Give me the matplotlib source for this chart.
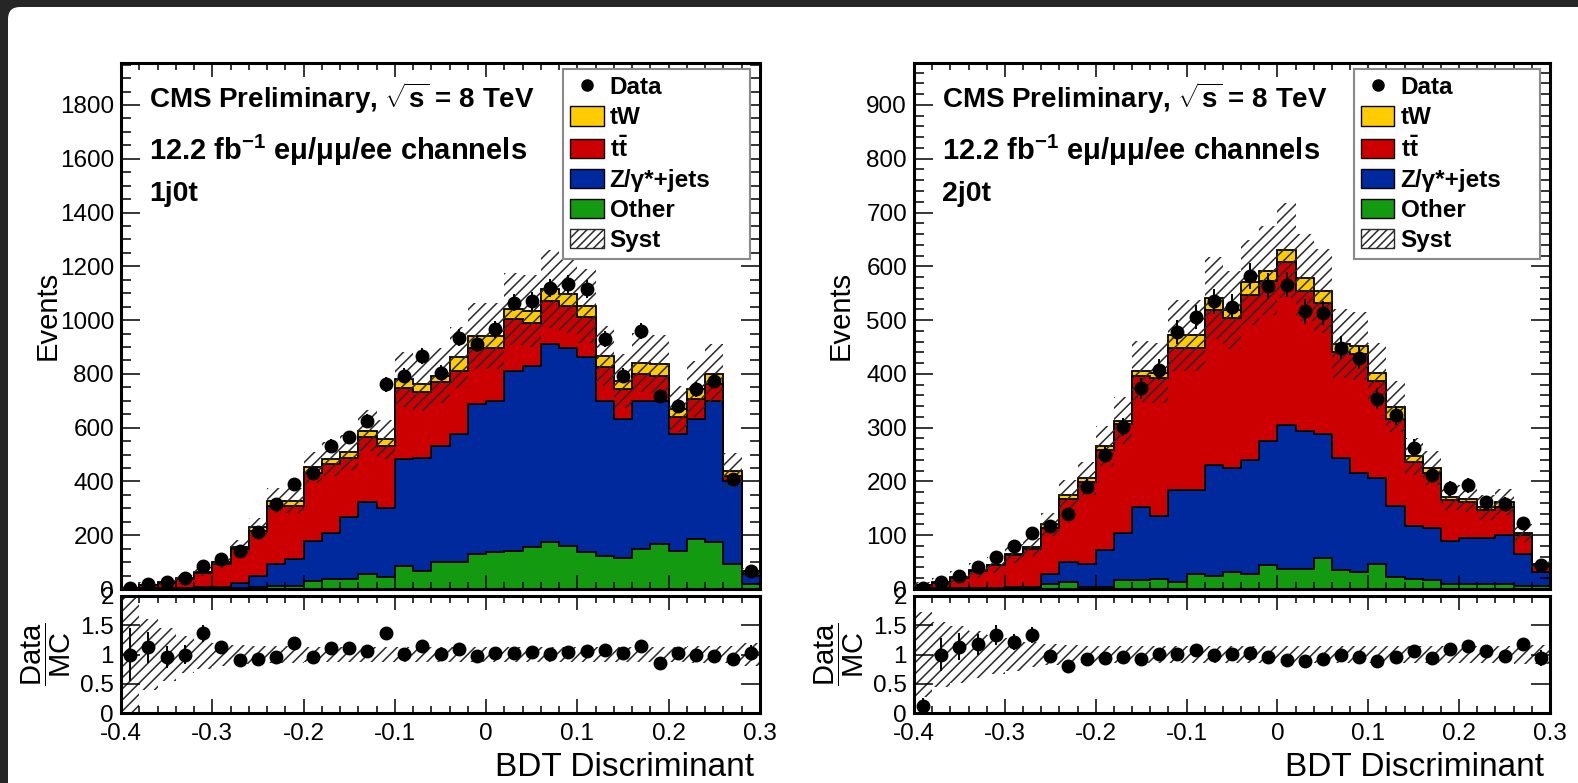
"""
tW dilepton BDT discriminant: 1j0t and 2j0t control regions
stacked MC (Other, Z/gamma*+jets, ttbar, tW) vs data, with Data/MC ratio.
"""

import numpy as np
import matplotlib
matplotlib.use("Agg")
import matplotlib.pyplot as plt
import matplotlib.patches as mpatches
from matplotlib.lines import Line2D
from matplotlib.ticker import MultipleLocator, FuncFormatter
from matplotlib.transforms import IdentityTransform

plt.rcParams['font.family'] = ['Liberation Sans', 'DejaVu Sans']
plt.rcParams['mathtext.fontset'] = 'custom'
plt.rcParams['mathtext.rm'] = 'Liberation Sans'
plt.rcParams['mathtext.bf'] = 'Liberation Sans:bold'
plt.rcParams['mathtext.it'] = 'Liberation Sans:italic'
plt.rcParams['axes.unicode_minus'] = False
plt.rcParams['hatch.linewidth'] = 1.1
plt.rcParams['hatch.color'] = '#2a2a2a'

# Binning: 35 bins of width 0.02 from -0.4 to 0.3
x_lo, x_hi, n_bins = -0.4, 0.3, 35

# ---- 1j0t (left) ----
other_1j = [0, 0, 0, 0, 1, 2, 3, 6, 12, 12, 31, 37, 37, 56, 43, 87, 68, 99, 99, 130,
            136, 142, 155, 173, 161, 136, 124, 117, 148, 167, 142, 186, 173, 93, 18]
zjets_1j = [1, 2, 3, 4, 5, 6, 21, 43, 81, 99, 149, 173, 229, 266, 260, 396, 421, 434, 477, 557,
            564, 669, 675, 737, 737, 725, 576, 515, 552, 533, 434, 446, 527, 309, 38]
ttbar_1j = [3, 12, 21, 33, 54, 85, 126, 168, 217, 199, 253, 254, 223, 242, 230, 266, 242, 235, 235, 211,
            198, 192, 161, 162, 155, 149, 124, 111, 99, 93, 62, 74, 62, 19, 4]
tw_1j = [1, 2, 2, 3, 4, 6, 6, 12, 18, 18, 19, 19, 19, 24, 24, 31, 31, 25, 50, 43,
         43, 38, 43, 43, 43, 43, 43, 31, 43, 43, 31, 37, 37, 19, 6]
data_1j = [5, 18, 25, 40, 87, 111, 142, 211, 316, 390, 433, 533, 564, 626, 762, 793, 867, 805, 935, 910,
           966, 1065, 1072, 1121, 1134, 1115, 929, 793, 960, 718, 681, 743, 774, 409, 68]
syst_1j = [1.0, 0.6, 0.45, 0.32, 0.25, 0.2, 0.17, 0.15, 0.14, 0.14, 0.13, 0.13, 0.13, 0.13, 0.13, 0.13, 0.13, 0.13, 0.13, 0.13,
           0.13, 0.13, 0.13, 0.13, 0.13, 0.13, 0.13, 0.13, 0.13, 0.13, 0.13, 0.14, 0.14, 0.15, 0.2]

# ---- 2j0t (right) ----
other_2j = [0, 0, 0, 0, 0, 0, 0, 9, 13, 3, 3, 16, 16, 19, 13, 28, 25, 32, 28, 44,
            38, 38, 57, 35, 32, 47, 22, 19, 16, 9, 9, 9, 9, 6, 6]
zjets_2j = [1, 1, 1, 2, 2, 3, 3, 19, 38, 44, 70, 88, 136, 117, 171, 156, 206, 193, 212, 231,
            266, 256, 231, 209, 183, 159, 133, 98, 98, 80, 86, 86, 92, 60, 26]
ttbar_2j = [6, 11, 20, 32, 42, 60, 71, 86, 117, 152, 186, 203, 244, 256, 265, 265, 288, 278, 307, 298,
            304, 260, 244, 196, 222, 180, 161, 120, 101, 76, 66, 51, 51, 35, 12]
tw_2j = [1, 1, 1, 1, 1, 3, 4, 6, 6, 7, 7, 6, 9, 10, 23, 23, 22, 16, 23, 19,
         22, 25, 22, 16, 15, 16, 23, 10, 10, 6, 7, 6, 9, 3, 3]
data_2j = [1, 13, 25, 41, 60, 80, 104, 117, 139, 190, 250, 301, 373, 408, 478, 506, 535, 525, 582, 563,
           566, 516, 513, 449, 430, 354, 323, 263, 212, 187, 193, 161, 158, 123, 44]
syst_2j = [0.72, 0.55, 0.48, 0.4, 0.33, 0.28, 0.22, 0.18, 0.16, 0.15, 0.14, 0.14, 0.14, 0.14, 0.14, 0.14, 0.14, 0.14, 0.14, 0.14,
           0.14, 0.14, 0.14, 0.14, 0.14, 0.14, 0.14, 0.14, 0.14, 0.14, 0.15, 0.15, 0.15, 0.16, 0.17]

COLORS = {'tW': '#FFCC00', 'tt': '#CC0000', 'Z': '#00299E', 'Other': '#139A10'}
HATCH_EDGE = '#2a2a2a'

W, H = 1578, 783


def fmt_tick(v, _pos):
    if abs(v) < 1e-9:
        return '0'
    return f'{v:g}'


def style_axis(ax, ymajor, yminor=None, ticksize=17.5):
    ax.set_xlim(x_lo, x_hi)
    ax.xaxis.set_major_locator(MultipleLocator(0.1))
    ax.xaxis.set_minor_locator(MultipleLocator(0.02))
    ax.yaxis.set_major_locator(MultipleLocator(ymajor))
    if yminor:
        ax.yaxis.set_minor_locator(MultipleLocator(yminor))
    ax.xaxis.set_major_formatter(FuncFormatter(fmt_tick))
    ax.yaxis.set_major_formatter(FuncFormatter(fmt_tick))
    ax.tick_params(which='both', direction='in', top=True, right=True, width=1.1)
    ax.tick_params(axis='y', which='major', length=14, pad=5, labelsize=ticksize)
    ax.tick_params(axis='y', which='minor', length=7)
    ax.tick_params(axis='x', which='major', length=10, pad=7, labelsize=ticksize)
    ax.tick_params(axis='x', which='minor', length=5)
    for sp in ax.spines.values():
        sp.set_linewidth(2.2)


def draw_panel(ax, axr, other, zjets, ttbar, tw, data, syst, ymax, ymajor, yminor, tag):
    edges = np.linspace(x_lo, x_hi, n_bins + 1)
    centers = 0.5 * (edges[:-1] + edges[1:])
    other, zjets, ttbar, tw = map(np.asarray, (other, zjets, ttbar, tw))
    data = np.asarray(data, dtype=float)
    syst = np.asarray(syst)

    c_other = other
    c_z = c_other + zjets
    c_tt = c_z + ttbar
    c_tw = c_tt + tw
    mc = c_tw.astype(float)

    # stack, drawn from top level down so each one covers the one above from 0
    for level, col in [(c_tw, COLORS['tW']), (c_tt, COLORS['tt']),
                       (c_z, COLORS['Z']), (c_other, COLORS['Other'])]:
        ax.stairs(level, edges, baseline=0, fill=True, facecolor=col, edgecolor='none', zorder=1)
        ax.stairs(level, edges, baseline=None, color='black', lw=1.3, zorder=2)

    # systematic band
    ax.stairs(mc * (1 + syst), edges, baseline=mc * (1 - syst), fill=True, facecolor='none',
              edgecolor=HATCH_EDGE, hatch='///', lw=0, zorder=3)

    ax.errorbar(centers, data, yerr=np.sqrt(data), fmt='o', color='black', ms=9,
                elinewidth=1.4, capsize=0, zorder=4)

    style_axis(ax, ymajor, yminor)
    ax.set_ylim(0, ymax)
    ax.tick_params(axis='x', labelbottom=False)
    ax.set_ylabel('Events', fontsize=21)
    ax.yaxis.set_label_coords(-0.093, 0.52)

    ax.text(0.044, 0.933, r'CMS Preliminary, $\sqrt{\mathbf{s}}$ = 8 TeV', transform=ax.transAxes,
            fontsize=20, fontweight='bold', va='center', ha='left')
    ax.text(0.044, 0.833, r'12.2 fb$^{\mathbf{-1}}$ eμ/μμ/ee channels', transform=ax.transAxes,
            fontsize=21, fontweight='bold', va='center', ha='left')
    ax.text(0.044, 0.751, tag, transform=ax.transAxes,
            fontsize=20.5, fontweight='bold', va='center', ha='left')

    handles = [
        Line2D([], [], marker='o', color='black', ls='none', ms=8),
        mpatches.Patch(facecolor=COLORS['tW'], edgecolor='black', lw=1),
        mpatches.Patch(facecolor=COLORS['tt'], edgecolor='black', lw=1),
        mpatches.Patch(facecolor=COLORS['Z'], edgecolor='black', lw=1),
        mpatches.Patch(facecolor=COLORS['Other'], edgecolor='black', lw=1),
        mpatches.Patch(facecolor='white', edgecolor=HATCH_EDGE, hatch='////', lw=1),
    ]
    labels = ['Data', 'tW', r'$\mathbf{t\bar{t}}$', 'Z/γ*+jets', 'Other', 'Syst']
    leg = ax.legend(handles, labels, loc='upper left', bbox_to_anchor=(0.692, 0.633, 0.292, 0.356),
                    mode='expand',
                    prop={'family': 'Liberation Sans', 'weight': 'bold', 'size': 17.5},
                    frameon=True, fancybox=False, edgecolor='#8a8a8a', framealpha=1,
                    handlelength=1.36, handleheight=0.85, handletextpad=0.25,
                    labelspacing=0.29, borderpad=0.3, borderaxespad=0)
    leg.get_frame().set_linewidth(1.5)
    leg.set_zorder(10)

    # ratio panel
    ratio = data / mc
    rerr = np.sqrt(data) / mc
    axr.stairs(1 + syst, edges, baseline=1 - syst, fill=True, facecolor='none',
               edgecolor=HATCH_EDGE, hatch='///', lw=0, zorder=1)
    axr.errorbar(centers, ratio, yerr=rerr, fmt='o', color='black', ms=9,
                 elinewidth=1.4, capsize=0, zorder=3)
    style_axis(axr, 0.5)
    axr.set_ylim(0, 2)
    axr.set_ylabel(r'$\dfrac{\mathrm{Data}}{\mathrm{MC}}$', fontsize=21)
    axr.yaxis.set_label_coords(-0.075, 0.5)
    axr.set_xlabel('BDT Discriminant', fontsize=24, loc='right')
    axr.xaxis.set_label_coords(0.99, -0.33)


def main():
    fig = plt.figure(figsize=(W / 100, H / 100), dpi=100, facecolor='#262626')
    # white slide area with rounded corners, kept behind the axes
    card = mpatches.FancyBboxPatch((8, -30), W + 40, H - 7 + 30,
                                   boxstyle='round,pad=0,rounding_size=12',
                                   transform=IdentityTransform(),
                                   facecolor='white', edgecolor='none', zorder=-10)
    fig.patches.append(card)

    def frac_box(x0, x1, y_top, y_bot):
        return [x0 / W, 1 - y_bot / H, (x1 - x0) / W, (y_bot - y_top) / H]

    ax1 = fig.add_axes(frac_box(121, 760, 63, 589))
    ax1r = fig.add_axes(frac_box(121, 760, 596, 713))
    ax2 = fig.add_axes(frac_box(914, 1550, 63, 589))
    ax2r = fig.add_axes(frac_box(914, 1550, 596, 713))

    draw_panel(ax1, ax1r, other_1j, zjets_1j, ttbar_1j, tw_1j, data_1j, syst_1j,
               1956, 200, 50, '1j0t')
    draw_panel(ax2, ax2r, other_2j, zjets_2j, ttbar_2j, tw_2j, data_2j, syst_2j,
               978, 100, 20, '2j0t')

    fig.savefig('out.png', dpi=100, facecolor=fig.get_facecolor())
    plt.close(fig)


if __name__ == "__main__":
    main()
